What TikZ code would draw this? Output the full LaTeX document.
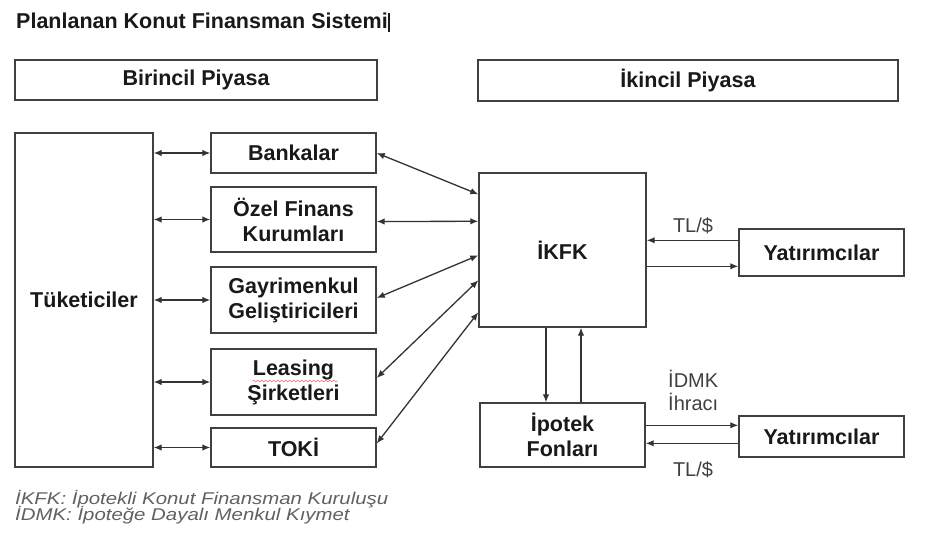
\documentclass[tikz,border=0pt]{standalone}
\usepackage{fontspec}
\usepackage{graphicx}
\setmainfont{Liberation Sans}
\usetikzlibrary{arrows.meta,calc,decorations.pathmorphing}
\begin{document}
\begin{tikzpicture}[x=1pt,y=-1pt,
  box/.style={draw=black!75, line width=1.4pt, inner sep=0pt, align=center,
    text=black!90, font=\fontsize{21.5}{25}\selectfont\bfseries},
  arr/.style={-{Latex[length=8pt,width=6.5pt]}, line width=1.3pt, draw=black!80},
  dbl/.style={{Latex[length=8pt,width=6.5pt]}-{Latex[length=8pt,width=6.5pt]}, line width=1.3pt, draw=black!80},
  lbl/.style={inner sep=0pt, text=black!75, font=\fontsize{20}{23}\selectfont},
  foot/.style={inner sep=0pt, text=black!62, font=\fontsize{17}{19}\selectfont\itshape}
]
\useasboundingbox (0,0) rectangle (928,552);
\fill[white] (0,0) rectangle (928,552);

% title
\node[inner sep=0pt, anchor=base west, text=black!90,
  font=\fontsize{21.5}{25}\selectfont\bfseries] (title) at (16,28)
  {Planlanan Konut Finansman Sistemi\hspace{0.5pt}\rule[-4pt]{1.8pt}{19pt}};

% headers
\node[box, minimum width=362pt, minimum height=40pt] (bir) at (196,80) {Birincil Piyasa};
\node[box, minimum width=420pt, minimum height=41pt] (iki) at (688,80.5) {İkincil Piyasa};

% primary market
\node[box, minimum width=138pt, minimum height=334pt] (tuk) at (84,300) {Tüketiciler};
\node[box, minimum width=165pt, minimum height=40pt] (ban) at (293.5,153) {Bankalar};
\node[box, minimum width=165pt, minimum height=65pt] (oze) at (293.5,219.5) {Özel Finans\\Kurumları};
\node[box, minimum width=165pt, minimum height=66pt] (gay) at (293.5,300) {Gayrimenkul\\Geliştiricileri};
\node[box, minimum width=165pt, minimum height=66pt] (lea) at (293.5,382) {Leasing\\Şirketleri};
\node[box, minimum width=165pt, minimum height=39pt] (tok) at (293.5,447.5) {TOKİ};

% secondary market
\node[box, minimum width=167pt, minimum height=154pt] (ikfk) at (562.5,250) {İKFK};
\node[box, minimum width=165pt, minimum height=47pt] (yat1) at (821.5,252.5) {Yatırımcılar};
\node[box, minimum width=165pt, minimum height=64pt] (ipo) at (562.5,435) {İpotek\\Fonları};
\node[box, minimum width=165pt, minimum height=41pt] (yat2) at (821.5,436.5) {Yatırımcılar};

% spell-check squiggle under Leasing
\draw[red!55, line width=0.6pt, decorate,
  decoration={snake, amplitude=0.8pt, segment length=4pt}]
  ($(lea.center)+(-41,-1)$) -- ($(lea.center)+(44,-1)$);

% consumers <-> institutions
\foreach \n in {ban,oze,gay,lea,tok}
  \draw[dbl] (tuk.east |- \n.west) -- (\n.west);

% institutions <-> IKFK
\draw[dbl] (ban.east) -- ($(ikfk.north west)+(0,22)$);
\draw[dbl] ($(oze.east)+(0,2)$) -- ($(ikfk.north west)+(0,49)$);
\draw[dbl] ($(gay.east)+(0,-2)$) -- ($(ikfk.north west)+(0,83)$);
\draw[dbl] ($(lea.east)+(0,-4)$) -- ($(ikfk.north west)+(0,108)$);
\draw[dbl] ($(tok.east)+(0,-4)$) -- ($(ikfk.north west)+(0,140)$);

% IKFK <-> Yatirimcilar
\coordinate (t1) at ($(yat1.north west)+(0,12)$);
\coordinate (t2) at ($(yat1.north west)+(0,38)$);
\draw[arr] (t1) -- (ikfk.east |- t1);
\draw[arr] (ikfk.east |- t2) -- (t2);
\node[lbl, anchor=base] (tl1) at (693,232) {TL/\$};

% IKFK <-> Ipotek Fonlari
\coordinate (d1) at ($(ikfk.south)+(-16.5,0)$);
\coordinate (u1) at ($(ipo.north)+(18.5,0)$);
\draw[arr] (d1) -- (d1 |- ipo.north);
\draw[arr] (u1) -- (u1 |- ikfk.south);

% Ipotek Fonlari <-> Yatirimcilar
\coordinate (b1) at ($(yat2.north west)+(0,10)$);
\coordinate (b2) at ($(yat2.north west)+(0,28)$);
\draw[arr] (ipo.east |- b1) -- (b1);
\draw[arr] (b2) -- (ipo.east |- b2);
\node[lbl, anchor=base west] (idmk) at (668,387) {İDMK};
\node[lbl, anchor=base west] (ihr) at (668,410) {İhracı};
\node[lbl, anchor=base] (tl2) at (693,476) {TL/\$};

% footnotes
\node[foot, anchor=base west] (f1) at (15,504) {\scalebox{1.2}[1]{İKFK: İpotekli Konut Finansman Kuruluşu}};
\node[foot, anchor=base west] (f2) at (15,520) {\scalebox{1.2}[1]{İDMK: İpoteğe Dayalı Menkul Kıymet}};
\end{tikzpicture}
\end{document}
